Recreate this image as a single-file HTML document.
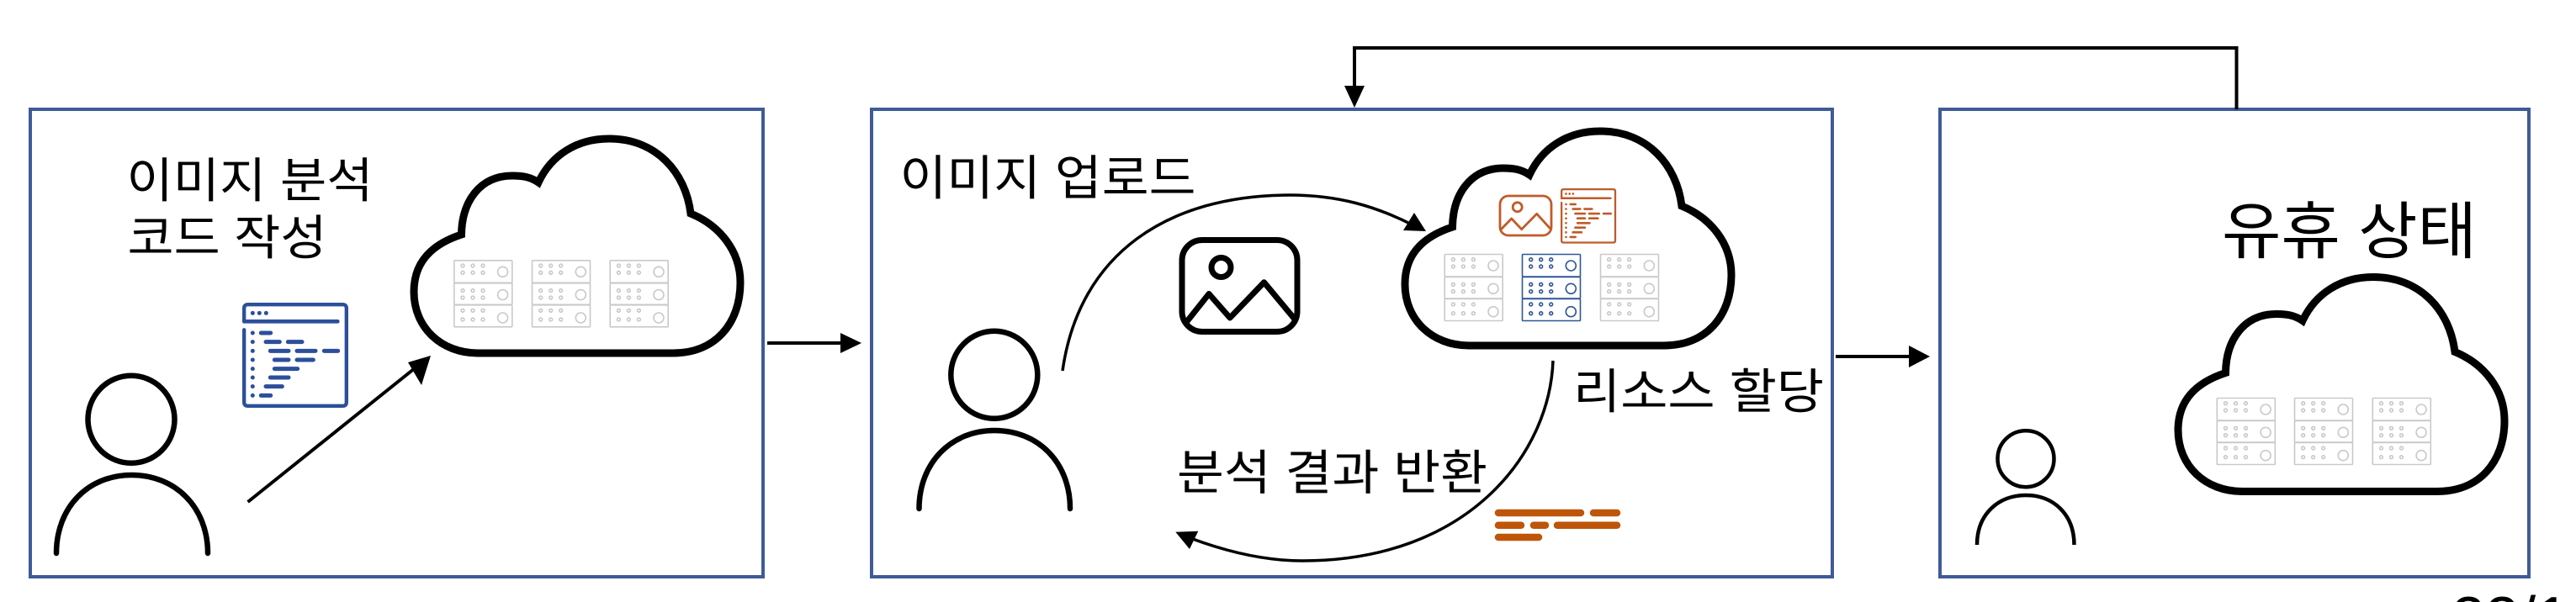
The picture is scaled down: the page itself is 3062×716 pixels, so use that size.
<!DOCTYPE html>
<html lang="ko">
<head>
<meta charset="utf-8">
<title>Diagram</title>
<style>
html,body{margin:0;padding:0;background:#fff;width:3062px;height:716px;overflow:hidden}
svg{display:block}
text{font-family:"Liberation Sans","Noto Sans CJK KR","NanumGothic",sans-serif;fill:#000}
</style>
</head>
<body>
<svg xmlns="http://www.w3.org/2000/svg" width="3062" height="716" viewBox="0 0 3062 716">
<defs>
  <clipPath id="frame"><rect x="2860" y="690" width="202" height="26"/></clipPath>
  <symbol id="cloud" overflow="visible" viewBox="0 0 3062 716" width="3062" height="716">
    <path d="M568 420 L800 420 C850 420 880 385 880 336 C880 298 855 268 821 254 C815 205 780 165 724 165 C685 165 655 185 640 217 C630 210 620 209 609 209 C570 209 549 240 548.5 279 C515 290 492 310 492 347 C492 390 525 420 568 420 Z" fill="none" stroke="#000" stroke-width="9" stroke-linejoin="miter"/>
  </symbol>
  <g id="server">
    <g fill="none" stroke="currentColor" stroke-width="1.6">
      <rect x="0.5" y="0.5" width="69" height="26.5" rx="1"/>
      <rect x="0.5" y="27.5" width="69" height="25.5" rx="1"/>
      <rect x="0.5" y="53.5" width="69" height="26" rx="1"/>
      <circle cx="58.3" cy="14" r="6"/>
      <circle cx="58.3" cy="41.3" r="6"/>
      <circle cx="58.3" cy="68.7" r="6"/>
      <g>
        <circle cx="10.7" cy="6.7" r="1.9"/><circle cx="22.7" cy="6.7" r="1.9"/><circle cx="34.7" cy="6.7" r="1.9"/>
        <circle cx="10.7" cy="15" r="1.9"/><circle cx="22.7" cy="15" r="1.9"/><circle cx="34.7" cy="15" r="1.9"/>
        <circle cx="10.7" cy="36.3" r="1.9"/><circle cx="22.7" cy="36.3" r="1.9"/><circle cx="34.7" cy="36.3" r="1.9"/>
        <circle cx="10.7" cy="44.7" r="1.9"/><circle cx="22.7" cy="44.7" r="1.9"/><circle cx="34.7" cy="44.7" r="1.9"/>
        <circle cx="10.7" cy="60" r="1.9"/><circle cx="22.7" cy="60" r="1.9"/><circle cx="34.7" cy="60" r="1.9"/>
        <circle cx="10.7" cy="70.7" r="1.9"/><circle cx="22.7" cy="70.7" r="1.9"/><circle cx="34.7" cy="70.7" r="1.9"/>
      </g>
    </g>
  </g>
  <g id="codeicon">
    <path d="M6.5 67 V20 Q6.5 6.5 20 6.5 H358 Q371.5 6.5 371.5 20 V355 Q371.5 368.5 358 368.5 H20 Q6.5 368.5 6.5 355 V97" fill="none" stroke="currentColor" stroke-width="13" stroke-linecap="round"/>
    <path d="M6.5 67 H340" fill="none" stroke="currentColor" stroke-width="14" stroke-linecap="round"/>
    <g fill="currentColor">
      <circle cx="37" cy="37" r="7.5"/><circle cx="61" cy="37" r="7.5"/><circle cx="85" cy="37" r="7.5"/>
      <circle cx="37" cy="108" r="7.5"/><circle cx="37" cy="140" r="7.5"/><circle cx="37" cy="172" r="7.5"/><circle cx="37" cy="204" r="7.5"/><circle cx="37" cy="236" r="7.5"/><circle cx="37" cy="267" r="7.5"/><circle cx="37" cy="299" r="7.5"/><circle cx="37" cy="331" r="7.5"/>
    </g>
    <g stroke="currentColor" stroke-width="15" stroke-linecap="round" fill="none">
      <path d="M67 108H101"/>
      <path d="M84 140H133M163 140H213"/>
      <path d="M100 172H165M195 172H261M292 172H341"/>
      <path d="M115 204H165M195 204H253"/>
      <path d="M115 236H197"/>
      <path d="M100 267H165"/>
      <path d="M84 299H142"/>
      <path d="M67 331H101"/>
    </g>
  </g>
</defs>

<!-- boxes -->
<g fill="none" stroke="#3F5B97" stroke-width="4">
  <rect x="36" y="130" width="871" height="556"/>
  <rect x="1036" y="130" width="1142" height="556"/>
  <rect x="2306" y="130" width="700" height="556"/>
</g>

<!-- connectors between boxes -->
<path d="M912 408 H1000" stroke="#000" stroke-width="4" fill="none"/>
<polygon points="1024,408 999,396 999,420" fill="#000"/>
<path d="M2182 424 H2272" stroke="#000" stroke-width="4" fill="none"/>
<polygon points="2294,424 2269,411 2269,437" fill="#000"/>
<path d="M2658.5 130 V57 H1610 V105" stroke="#000" stroke-width="4" fill="none"/>
<polygon points="1610,128 1598,102 1622,102" fill="#000"/>

<!-- clouds -->
<use href="#cloud"/>
<use href="#cloud" transform="translate(1178,-9)"/>
<use href="#cloud" transform="translate(2097,164.5)"/>

<!-- servers -->
<g color="#C9C9C9">
  <use href="#server" x="539.3" y="309.3"/>
  <use href="#server" x="632" y="309.3"/>
  <use href="#server" x="724.7" y="309.3"/>
  <use href="#server" x="1716.7" y="302"/>
  <use href="#server" x="1902" y="302"/>
  <use href="#server" x="2634.8" y="473"/>
  <use href="#server" x="2727" y="473"/>
  <use href="#server" x="2819.8" y="473"/>
</g>
<g color="#2F5597"><use href="#server" x="1809" y="302"/></g>

<!-- persons -->
<g fill="none" stroke="#000" stroke-width="6.5" stroke-linecap="round">
  <ellipse cx="156" cy="498.8" rx="51.5" ry="52"/>
  <path d="M67 658 C67 603 105 565 156.5 565 C208 565 247 603 247 658"/>
  <ellipse cx="1181.8" cy="445.8" rx="51.5" ry="52"/>
  <path d="M1092.5 605 C1092.5 550 1131 512 1182 512 C1234 512 1272 550 1272 605"/>
</g>
<g fill="none" stroke="#000" stroke-width="4.5">
  <ellipse cx="2408" cy="545.7" rx="33.5" ry="33.5"/>
  <path d="M2350 648 C2350 612 2375 589 2408 589 C2441 589 2465.5 612 2465.5 648"/>
</g>

<!-- code icon blue -->
<g color="#2B4F9B" transform="translate(288,360) scale(0.3333)">
  <use href="#codeicon"/>
</g>

<!-- arrow box 1 -->
<path d="M294.6 597 L498 434" stroke="#000" stroke-width="4" fill="none"/>
<polygon points="512,423 485,431 501,458" fill="#000"/>

<!-- black image icon -->
<g fill="none" stroke="#000" stroke-width="7" stroke-linejoin="round">
  <rect x="1405" y="285.5" width="137" height="109" rx="24"/>
  <circle cx="1451.5" cy="318" r="11.5"/>
  <path d="M1408 386 L1437 349.5 L1462 378 L1502.5 335.8 L1541 382"/>
</g>

<!-- orange icons -->
<g fill="none" stroke="#BF5B28" stroke-width="2.8" stroke-linejoin="round">
  <rect x="1783" y="233" width="61" height="47" rx="10"/>
  <circle cx="1803.7" cy="246.3" r="5.5"/>
  <path d="M1784 273 L1796.7 260 L1808.7 272.7 L1826.7 254.3 L1844 273.3"/>
</g>
<g color="#BF5B28" transform="translate(1855,224) scale(0.175)">
  <use href="#codeicon"/>
</g>

<!-- curved arrows -->
<path d="M1263 441 C1283 300 1390 232 1533 232 C1590 232 1635 245 1680 268" fill="none" stroke="#000" stroke-width="3.5"/>
<polygon points="1695,275 1681,253 1668,274" fill="#000"/>
<path d="M1846 429 C1842 540 1745 667 1548 667 C1500 667 1455 655 1415 640" fill="none" stroke="#000" stroke-width="3.5"/>
<polygon points="1397.3,632.7 1424.3,631.7 1414,653" fill="#000"/>

<!-- orange bars -->
<g stroke="#BF5508" stroke-width="8.5" stroke-linecap="round" fill="none">
  <path d="M1781 610H1879M1894 610H1922"/>
  <path d="M1781 624.7H1808M1823 624.7H1837M1851 624.7H1922"/>
  <path d="M1781 639H1829"/>
</g>

<!-- labels -->
<text x="150.5" y="234.5" font-size="57" textLength="293" lengthAdjust="spacingAndGlyphs">이미지 분석</text>
<text x="151.5" y="302.5" font-size="57" textLength="237" lengthAdjust="spacingAndGlyphs">코드 작성</text>
<text x="1069.5" y="231.5" font-size="57" textLength="352" lengthAdjust="spacingAndGlyphs">이미지 업로드</text>
<text x="1870" y="485.5" font-size="57" textLength="298" lengthAdjust="spacingAndGlyphs">리소스 할당</text>
<text x="1399" y="582" font-size="57" textLength="369" lengthAdjust="spacingAndGlyphs">분석 결과 반환</text>
<text x="2641" y="301" font-size="74" textLength="303" lengthAdjust="spacingAndGlyphs">유휴 상태</text>
<g clip-path="url(#frame)"><text x="2914" y="760" font-size="72">22/1</text></g>
</svg>
</body>
</html>
